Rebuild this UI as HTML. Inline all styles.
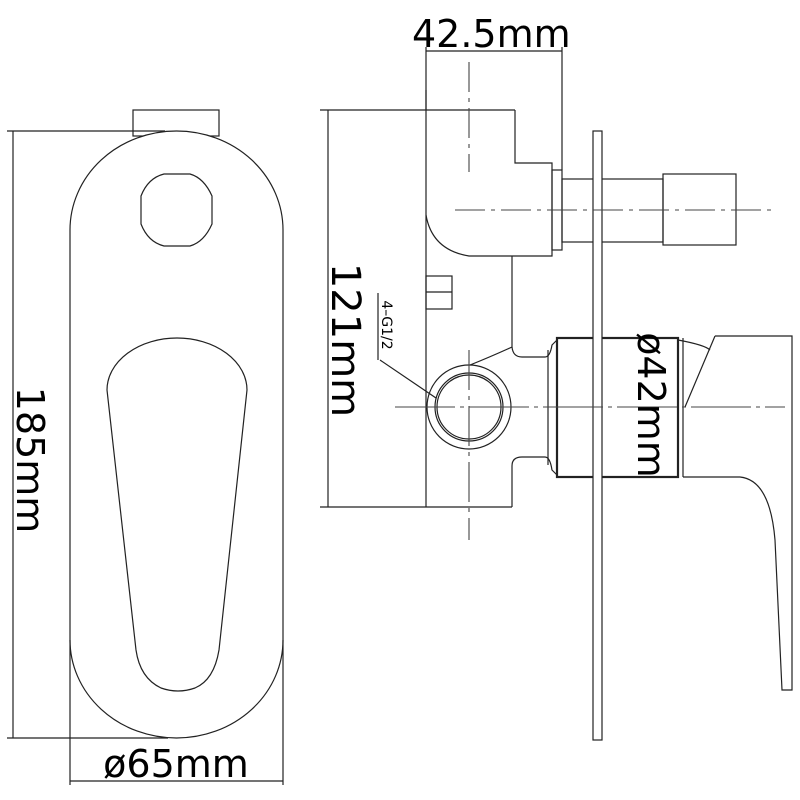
<!DOCTYPE html>
<html><head><meta charset="utf-8"><style>
html,body{margin:0;padding:0;background:#fff;}
svg{display:block;}
text{font-family:"DejaVu Sans","Liberation Sans",sans-serif;fill:#000;}
</style></head><body>
<svg width="800" height="800" viewBox="0 0 800 800" xmlns="http://www.w3.org/2000/svg">
<g fill="none" stroke="#222" stroke-width="1.2">
<!-- LEFT VIEW -->
<rect x="133" y="110" width="86" height="26"/>
<path d="M70,230 A106.5,99 0 0 1 283,230 L283,640 A106.5,98 0 0 1 70,640 Z" fill="#fff"/>
<path d="M164,174 L190,174 Q204,178 212,196 L212,224 Q204,242 190,246 L164,246 Q148,242 141,224 L141,196 Q148,178 164,174 Z"/>
<path d="M107,390 A70,52 0 0 1 247,390 L219,650 Q214,680 195,688 Q178,694 161,688 Q140,678 136,650 Z"/>
<!-- 185 dim -->
<line x1="7" y1="131" x2="165" y2="131"/>
<line x1="7" y1="738" x2="168" y2="738"/>
<line x1="13" y1="131" x2="13" y2="738"/>
<!-- 65 dim -->
<line x1="70" y1="640" x2="70" y2="785"/>
<line x1="283" y1="640" x2="283" y2="785"/>
<line x1="70" y1="781" x2="283" y2="781"/>

<!-- RIGHT VIEW -->
<line x1="426" y1="47" x2="426" y2="110"/>
<line x1="562" y1="47" x2="562" y2="170"/>
<line x1="426" y1="51" x2="562" y2="51"/>
<line x1="320" y1="110" x2="515" y2="110"/>
<line x1="320" y1="507" x2="512" y2="507"/>
<line x1="328" y1="110" x2="328" y2="507"/>
<path d="M426,90 L426,507"/>
<path d="M515,110 L515,163 L552,163 L552,256 L469,256 Q432,250 426,215"/>
<rect x="552" y="170" width="10" height="80"/>
<rect x="562" y="179" width="101" height="63"/>
<rect x="663" y="174" width="73" height="71"/>
<path d="M512,256 L512,347 Q490,357 470,365"/>
<path d="M512,347 Q513,357 522,357 L545,357 Q550,357 552,345 L557,340"/>
<path d="M512,507 L512,466 Q512,457 522,457 L545,457 Q550,457 552,470 L557,475"/>
<line x1="548" y1="350" x2="548" y2="465"/>
<rect x="426" y="276" width="26" height="33"/>
<line x1="426" y1="292" x2="452" y2="292"/>
<circle cx="469" cy="407" r="42"/>
<circle cx="469" cy="407" r="34"/>
<circle cx="469" cy="407" r="32"/>
<rect x="557" y="338" width="121" height="139" stroke-width="2.2"/>
<line x1="678" y1="338" x2="678" y2="477"/>
<line x1="683" y1="338" x2="683" y2="477"/>
<path d="M678,340 Q705,345 710,350"/>
<path d="M715,336 L792,336 L792,690 L782,690 L775,540 Q770,480 740,477 L683,477"/>
<line x1="715" y1="336" x2="685" y2="407"/>
<rect x="593" y="131" width="9" height="609" fill="#fff"/>
<line x1="378" y1="293" x2="378" y2="360"/>
<line x1="380" y1="360" x2="436" y2="398"/>
</g>
<g stroke="#444" stroke-width="1.1" fill="none">
<line x1="455" y1="210" x2="773" y2="210" stroke-dasharray="30,6,4,6"/>
<line x1="469" y1="62" x2="469" y2="172" stroke-dasharray="30,6,4,6"/>
<line x1="395" y1="407" x2="785" y2="407" stroke-dasharray="60,5,4,5"/>
<line x1="469" y1="350" x2="469" y2="540" stroke-dasharray="40,6,4,6"/>
</g>
<text x="412" y="47" font-size="38">42.5mm</text>
<text x="176" y="777" font-size="38" text-anchor="middle">ø65mm</text>
<text transform="translate(17,460) rotate(90)" font-size="38" text-anchor="middle">185mm</text>
<text transform="translate(332,340) rotate(90)" font-size="40" text-anchor="middle">121mm</text>
<text transform="translate(638,405) rotate(90)" font-size="38" text-anchor="middle">ø42mm</text>
<text transform="translate(382,325) rotate(90)" font-size="14" text-anchor="middle">4–G1/2</text>
</svg>
</body></html>
